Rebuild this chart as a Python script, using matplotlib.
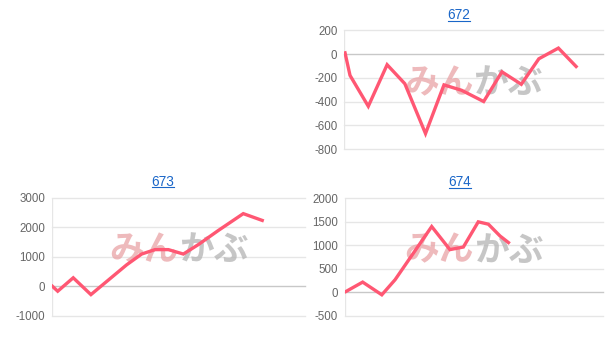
import matplotlib
matplotlib.use('Agg')
import matplotlib.pyplot as plt
from matplotlib.lines import Line2D

plt.rcParams['font.family'] = ['Liberation Sans', 'DejaVu Sans']
plt.rcParams['axes.unicode_minus'] = False

# chart 672 (top right)
x672 = [0.04, 0.31, 1.3, 2.32, 3.28, 4.4, 5.4, 6.35, 7.55, 8.54, 9.59, 10.54, 11.6, 12.56]
y672 = [10, -180, -440, -90, -250, -670, -260, -305, -400, -150, -255, -40, 50, -105]
ticks672 = [200, 0, -200, -400, -600, -800]

# chart 673 (bottom left)
x673 = [0, 0.3, 1.16, 2.14, 3.1, 4.12, 4.95, 5.69, 6.43, 7.26, 8.09, 9.2, 10.58, 11.63]
y673 = [0, -170, 285, -285, 205, 725, 1090, 1240, 1240, 1090, 1410, 1890, 2460, 2230]
ticks673 = [3000, 2000, 1000, 0, -1000]

# chart 674 (bottom right)
x674 = [0.05, 0.96, 2.0, 2.72, 4.71, 5.7, 6.43, 7.24, 7.79, 8.42, 8.88]
y674 = [20, 220, -50, 270, 1400, 910, 965, 1500, 1450, 1200, 1060]
ticks674 = [2000, 1500, 1000, 500, 0, -500]

W, H = 611, 344
fig = plt.figure(figsize=(W / 100, H / 100), dpi=100)

line_col = '#ff5773'
grid_col = '#e6e6e6'
zero_col = '#c8c8c8'
tick_col = '#666666'
link_col = '#1a66c8'


def px_axes(l, t, r, b):
    return fig.add_axes([l / W, 1 - b / H, (r - l) / W, (b - t) / H])


def draw_chart(ax, xs, ys, ticks, title, tx, ty):
    lo, hi = min(ticks), max(ticks)
    ax.set_ylim(lo, hi)
    ax.set_xlim(0, 14)
    for t in ticks:
        c = zero_col if t == 0 else grid_col
        ax.axhline(t, color=c, lw=1, zorder=1, clip_on=False)
    for s in ax.spines.values():
        s.set_visible(False)
    ax.axvline(0, color=grid_col, lw=1, zorder=1)
    ax.set_xticks([])
    ax.set_yticks(ticks)
    ax.tick_params(axis='y', length=0, pad=5, labelsize=8.3, labelcolor=tick_col)
    # watermark
    ax.text(0.5, 0.56, 'みん', transform=ax.transAxes, ha='right', va='center',
            fontsize=25, fontweight='bold', color='#e9a3a6', alpha=0.75,
            family=['Noto Sans CJK JP'], zorder=2)
    ax.text(0.5, 0.56, 'かぶ', transform=ax.transAxes, ha='left', va='center',
            fontsize=25, fontweight='bold', color='#b4b4b4', alpha=0.75,
            family=['Noto Sans CJK JP'], zorder=2)
    ax.plot(xs, ys, color=line_col, lw=2.4, zorder=3, solid_joinstyle='miter')
    txt = fig.text(tx / W, 1 - ty / H, title, ha='center', va='center',
                   fontsize=9.8, color=link_col)
    return txt


ax1 = px_axes(344.3, 30.3, 602.7, 149)
ax2 = px_axes(52.3, 197.7, 305, 315.7)
ax3 = px_axes(345, 198.3, 602.7, 316)

titles = [
    draw_chart(ax1, x672, y672, ticks672, '672', 459, 15),
    draw_chart(ax2, x673, y673, ticks673, '673', 163, 181.5),
    draw_chart(ax3, x674, y674, ticks674, '674', 460, 182),
]

# underline the title links
fig.canvas.draw()
r = fig.canvas.get_renderer()
for t in titles:
    bb = t.get_window_extent(r)
    yy = (bb.y0 + 1.5) / H
    fig.add_artist(Line2D([bb.x0 / W, bb.x1 / W], [yy, yy], color=link_col, lw=0.8))

fig.savefig('out.png', dpi=100)
